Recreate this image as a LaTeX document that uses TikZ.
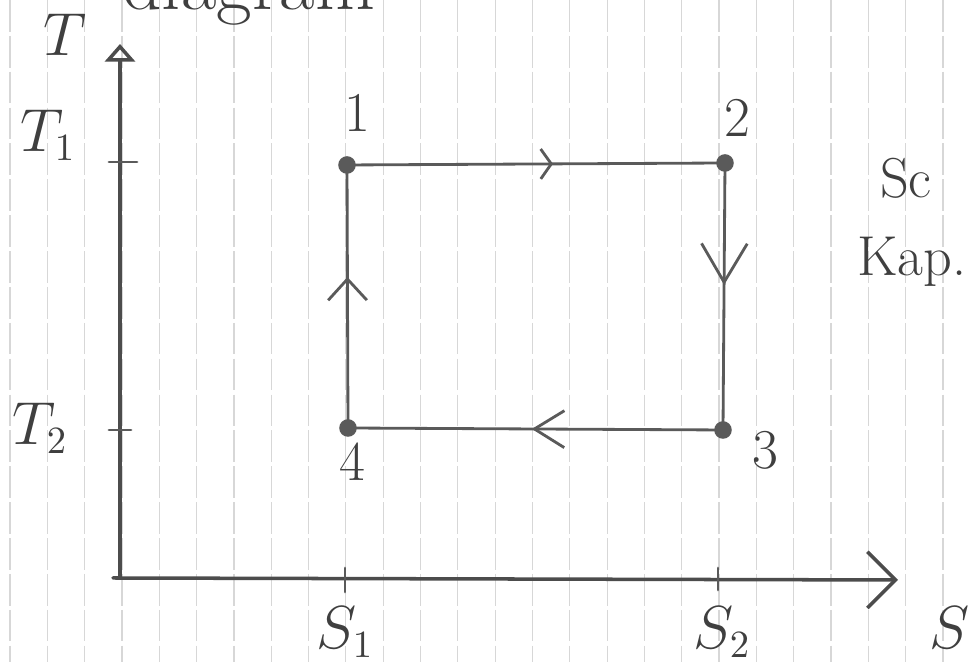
\documentclass[tikz,border=0pt]{standalone}
\definecolor{pencil}{RGB}{90,90,90}
\definecolor{ruling}{RGB}{215,215,215}
\usepackage{tikz}
\usepackage{amsmath}
\usetikzlibrary{arrows.meta,positioning,decorations.markings}

\begin{document}
\begin{tikzpicture}[x=0.01cm, y=-0.01cm,
  pen/.style={draw=pencil, line width=0.8pt, line cap=round},
  axis/.style={draw=pencil!85!black, line width=1pt, line cap=round},
  hand/.style={text=pencil!70!black, font=\fontsize{16}{19}\selectfont, inner sep=1pt},
  corner/.style={circle, fill=pencil, inner sep=0pt, minimum size=5pt},
  flow/.style 2 args={postaction={decorate, decoration={markings,
      mark=at position #1 with {\arrow{#2}}}}}
]
  \useasboundingbox (0,0) rectangle (969,662);
  \fill[white] (0,0) rectangle (969,662);

  % ruled paper
  \foreach \k in {0,...,25}
    \draw[ruling, line width=0.35pt, dash pattern=on 9pt off 1.2pt] (10+37.32*\k,0) -- (10+37.32*\k,662);

  % axes
  \coordinate (o)    at (120,578);
  \coordinate (ytop) at (120,44);
  \coordinate (xend) at (898,580);
  \draw[axis, -{Triangle[open, length=5pt, width=8.5pt, line width=1pt]}] (o) -- (ytop);
  \draw[axis, -{Straight Barb[length=8pt, width=16pt, line width=1pt]}] ([xshift=-0.07cm]o) -- (xend);

  % ticks
  \coordinate (t1) at (120,162);
  \coordinate (t2) at (120,430);
  \coordinate (s1) at (345,578);
  \coordinate (s2) at (718,578);
  \draw[pen] (t1) ++(-11,0) -- ++(28,0);
  \draw[pen] (t2) ++(-11,0) -- ++(22,0);
  \draw[pen] (s1) ++(0,-10) -- ++(0,24);
  \draw[pen] (s2) ++(0,-10) -- ++(0,22);

  \node[hand] (lblT)  at (65,35)   {$T$};
  \node[hand] (lblT1) at (48,135)  {$T_1$};
  \node[hand] (lblT2) at (40,428)  {$T_2$};
  \node[hand] (lblS1) at (345,632) {$S_1$};
  \node[hand] (lblS2) at (722,632) {$S_2$};
  \node[hand] (lblS)  at (950,628) {$S$};

  % cycle
  \node[corner] (p1) at (347,165) {};
  \node[corner] (p2) at (725,163) {};
  \node[corner] (p3) at (723,430) {};
  \node[corner] (p4) at (348,428) {};

  \draw[pen, flow={0.545}{Straight Barb[length=3pt, width=8.5pt, line width=0.8pt]}]  (p1.center) -- (p2.center);
  \draw[pen, flow={0.457}{Straight Barb[length=11pt, width=13pt, line width=0.8pt]}] (p2.center) -- (p3.center);
  \draw[pen, flow={0.51}{Straight Barb[length=8.5pt, width=10.5pt, line width=0.8pt]}] (p3.center) -- (p4.center);
  \draw[pen, flow={0.574}{Straight Barb[length=6pt, width=11pt, line width=0.8pt]}]  (p4.center) -- (p1.center);

  \node[hand] (n1) at (357,113) {1};
  \node[hand] (n2) at (737,118) {2};
  \node[hand] (n3) at (765,450) {3};
  \node[hand] (n4) at (352,462) {4};

  % side notes
  \node[hand] (sc)  at (906,178) {Sc};
  \node[hand] (kap) at (912,262) {Kap.};
  \node[hand, font=\fontsize{22}{26}\selectfont, anchor=base west] (title) at (118,10) {diagram};
\end{tikzpicture}
\end{document}
